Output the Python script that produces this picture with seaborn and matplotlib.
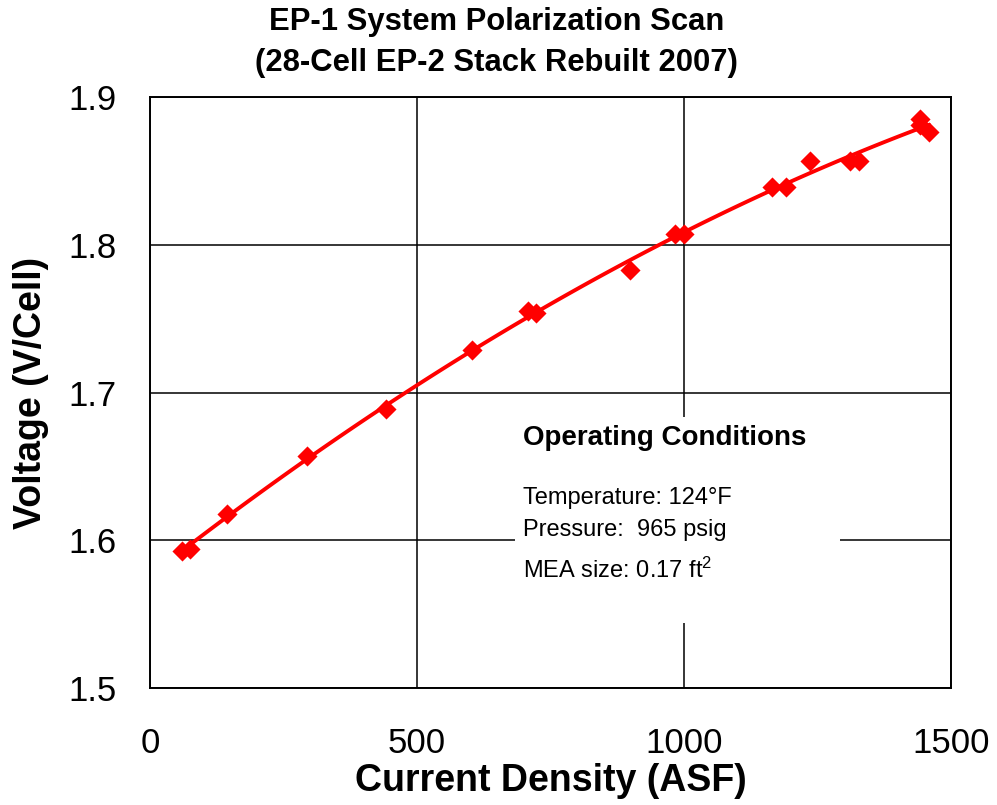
import numpy as np
import pandas as pd
import matplotlib
matplotlib.use("Agg")
import matplotlib.pyplot as plt
import seaborn as sns
from matplotlib.patches import Rectangle

# Polarization scan measurements
current_density = [59, 75, 145, 294, 441, 602, 707, 723, 898, 984, 1000,
                   1164, 1191, 1236, 1311, 1328, 1441, 1442, 1459]
voltage = [1.593, 1.594, 1.618, 1.657, 1.689, 1.729, 1.755, 1.754, 1.783,
           1.807, 1.807, 1.839, 1.839, 1.857, 1.857, 1.857, 1.885, 1.881, 1.876]

x_ticks = [0, 500, 1000, 1500]
y_ticks = [1.5, 1.6, 1.7, 1.8, 1.9]

title_lines = ["EP-1 System Polarization Scan", "(28-Cell EP-2 Stack Rebuilt 2007)"]
conditions_header = "Operating Conditions"
conditions = ["Temperature: 124\u00b0F", "Pressure:  965 psig", "MEA size: 0.17 ft$^2$"]

df = pd.DataFrame({"Current Density (ASF)": current_density,
                   "Voltage (V/Cell)": voltage})

sns.set_style("white")
plt.rcParams["font.family"] = ["Liberation Sans", "DejaVu Sans"]
plt.rcParams["mathtext.fontset"] = "custom"
plt.rcParams["mathtext.rm"] = "Liberation Sans"
plt.rcParams["mathtext.it"] = "Liberation Sans"
for key in ["text.color", "axes.labelcolor", "xtick.color", "ytick.color"]:
    plt.rcParams[key] = "black"

fig = plt.figure(figsize=(9.97, 8.05), dpi=100)
ax = fig.add_axes([0.1505, 0.1453, 0.8034, 0.7342])

# Second-order trendline through the measurements
sns.regplot(data=df, x="Current Density (ASF)", y="Voltage (V/Cell)", order=2,
            ci=None, scatter=False, ax=ax,
            line_kws=dict(color="#ff0000", lw=2.8, zorder=3))
sns.scatterplot(data=df, x="Current Density (ASF)", y="Voltage (V/Cell)",
                marker="D", s=105, color="#ff0000", edgecolor="#ff0000",
                linewidth=0, ax=ax, zorder=4)

ax.set_xlim(0, 1500)
ax.set_ylim(1.5, 1.9)
ax.set_xticks(x_ticks)
ax.set_yticks(y_ticks)
ax.set_yticklabels([f"{v:.1f}" for v in y_ticks])
ax.tick_params(axis="both", length=0, labelsize=25, colors="black")
ax.tick_params(axis="y", pad=24)
ax.tick_params(axis="x", pad=28)
ax.grid(True, color="black", lw=1.1, zorder=1)
ax.set_axisbelow(True)
for sp in ax.spines.values():
    sp.set_color("black")
    sp.set_linewidth(1.4)

ax.set_xlabel("Current Density (ASF)", fontsize=27, fontweight="bold", labelpad=2)
ax.set_ylabel("Voltage (V/Cell)", fontsize=27, fontweight="bold", labelpad=14)

# White panel holding the operating conditions
ax.add_patch(Rectangle((684, 1.5439), 608, 0.1394, facecolor="white",
                       edgecolor="none", zorder=2))
ax.text(699, 1.6694, conditions_header, fontsize=20, fontweight="bold",
        va="center", ha="left", zorder=5)
cond_y = [1.6288, 1.6071, 1.5794]
for txt, yy in zip(conditions, cond_y):
    ax.text(699, yy, txt, fontsize=17, va="center", ha="left", zorder=5)

fig.text(0.498, 1 - 22 / 805, title_lines[0], fontsize=22.3, fontweight="bold",
         ha="center", va="center")
fig.text(0.498, 1 - 63 / 805, title_lines[1], fontsize=22.3, fontweight="bold",
         ha="center", va="center")

fig.savefig("out.png", dpi=100)
